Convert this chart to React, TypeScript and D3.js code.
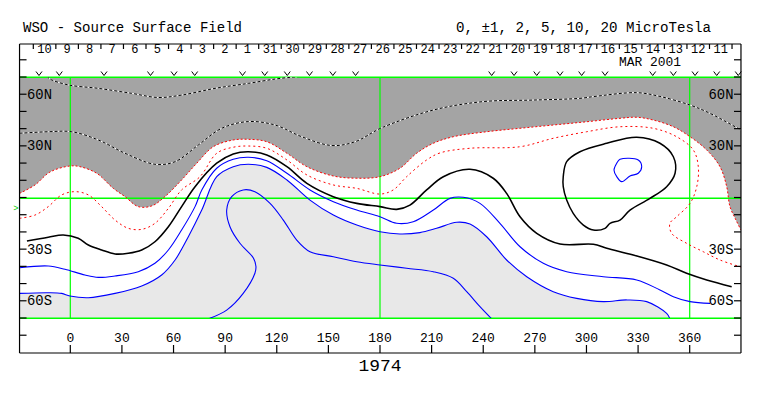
import React from 'react';
import * as d3 from 'd3';

// WSO source surface field, Carrington map (lon, lat in degrees)
const title = 'WSO - Source Surface Field';
const unitsLabel = '0, ±1, 2, 5, 10, 20 MicroTesla';
const monthLabel = 'MAR 2001';
const rotationLabel = '1974';

const dayLabels = ['10', '9', '8', '7', '6', '5', '4', '3', '2', '1', '31', '30', '29', '28', '27', '26',
    '25', '24', '23', '22', '21', '20', '19', '18', '17', '16', '15', '14', '13', '12', '11'];
const dayTickStart = -21.5;
const dayStep = 13.1;

const obsLons = [-18.2, -6.4, 19.6, 46.6, 60.3, 72.3, 100.1, 113.0, 126.1, 139.0, 152.6, 165.8,
    244.9, 257.9, 271.1, 284.6, 297.2, 310.8, 338.5, 350.5, 363.1, 375.7, 388.2];

const lonTicks = [0, 30, 60, 90, 120, 150, 180, 210, 240, 270, 300, 330, 360];
const latTicks = [80, 70, 60, 50, 40, 30, 20, 10, 0, -10, -20, -30, -40, -50, -60, -70, -80];
const latLabelValues = [60, 30, -30, -60];
const latLabelText = ['60N', '30N', '30S', '60S'];
const gridLons = [0, 180, 360];
const gridLats = [70, 0, -70];

// edge of the dark gray region (red dotted)
const grayEdge = [[-29.5, 2.4], [-20.5, 7.3], [-11.8, 14.8], [-0.2, 18.3], [5.6, 17.9], [15.3, 14.1],
    [25.0, 5.3], [31.8, 0.5], [39.5, -5.3], [47.3, -4.9], [55.0, 0.5], [64.7, 10.2], [73.5, 19.9],
    [83.1, 29.5], [94.7, 33.4], [103.5, 33.8], [114.2, 32.4], [125.9, 25.7], [137.5, 17.9],
    [152.8, 12.5], [166.5, 11.2], [180.0, 12.1], [191.6, 17.0], [201.3, 25.7], [211.0, 31.5],
    [222.6, 35.3], [242.0, 38.2], [261.4, 40.2], [280.7, 42.1], [300.1, 44.0], [319.5, 46.0],
    [329.2, 46.6], [338.8, 45.0], [350.5, 41.1], [360.2, 35.3], [369.9, 27.6], [377.6, 17.9],
    [381.5, 6.3], [383.4, -5.3], [386.9, -13.1], [389.8, -18.9]];

const redInner = [[-29.5, -12.1], [-20.5, -10.2], [-12.8, -5.3], [-5.0, 1.5], [2.7, 3.4], [10.5, 1.5],
    [18.2, -5.3], [26.0, -13.1], [33.7, -17.9], [41.5, -18.5], [49.2, -15.0], [57.0, -6.3],
    [64.7, 4.4], [75.4, 12.1], [85.1, 25.7], [94.7, 29.2], [103.5, 29.9], [114.2, 28.6],
    [125.9, 21.8], [137.5, 13.1], [152.8, 7.3], [166.5, 5.3], [180.0, 2.0], [187.7, 4.4],
    [195.5, 12.1], [207.1, 21.8], [214.9, 25.9], [232.3, 28.6], [261.4, 29.5], [280.7, 34.4],
    [300.1, 38.2], [319.5, 41.1], [338.8, 40.2], [352.4, 35.3], [362.1, 27.6], [365.0, 17.9],
    [364.1, 6.3], [360.2, -3.4], [352.4, -11.2], [348.5, -15.0], [349.5, -20.8], [358.2, -26.6],
    [367.9, -31.5], [377.6, -36.3], [389.8, -40.4]];

const neutralLine = [[-25.2, -25.3], [-12.8, -23.1], [-4.1, -21.8], [4.6, -23.7], [10.5, -27.6],
    [18.2, -30.5], [26.0, -32.8], [33.7, -32.4], [41.5, -30.5], [49.2, -25.7], [57.0, -17.0],
    [64.7, -5.3], [72.5, 6.3], [85.1, 19.9], [94.7, 25.3], [103.5, 26.6], [114.2, 24.7],
    [125.9, 17.9], [137.5, 8.2], [152.8, 0.5], [166.5, -3.4], [180.0, -5.3], [189.7, -6.9],
    [197.4, -4.4], [207.1, 4.4], [216.8, 12.1], [232.3, 16.4], [245.8, 11.2], [253.6, 2.4],
    [261.4, -11.2], [271.1, -20.8], [284.6, -27.0], [304.0, -27.2], [311.8, -29.5], [327.2, -33.4],
    [346.6, -39.2], [358.2, -44.0], [369.9, -47.9], [384.4, -51.8]];

const neutralLoop = [[286.5, 12.1], [288.5, 20.8], [296.2, 26.6], [311.8, 31.5], [329.2, 35.0],
    [342.7, 31.5], [350.5, 23.7], [351.5, 14.1], [346.6, 6.3], [336.9, -0.5], [325.3, -7.3],
    [319.5, -13.1], [313.7, -15.0], [310.8, -17.9], [304.0, -18.9], [298.2, -16.0], [292.3, -9.2],
    [288.5, -1.5], [286.5, 6.3]];

const blueLoop = [[319.5, 22.2], [330.1, 21.8], [332.1, 17.9], [330.1, 14.1], [325.3, 12.5],
    [320.5, 9.2], [317.6, 12.1], [316.0, 16.0], [317.6, 19.9]];

const blueOne = [[-29.5, -40.8], [-12.8, -39.8], [-3.1, -41.7], [8.5, -45.0], [16.3, -46.4],
    [26.0, -45.6], [39.5, -43.1], [49.2, -38.2], [57.0, -30.5], [64.7, -18.9], [72.5, -5.3],
    [76.5, 4.5], [85.1, 17.0], [94.7, 22.2], [103.5, 23.4], [114.2, 21.4], [125.9, 14.1],
    [139.3, 4.4], [152.9, -2.4], [166.5, -7.3], [180.0, -11.2], [189.7, -15.0], [199.3, -14.1],
    [211.0, -7.3], [220.7, -0.5], [228.4, 0.1], [238.1, -3.4], [249.7, -15.0], [261.4, -28.6],
    [274.9, -38.2], [288.5, -43.1], [309.8, -46.0], [329.2, -47.9], [342.7, -53.7], [350.5, -57.6],
    [360.2, -60.5], [371.8, -61.5]];

const blueTwo = [[-29.5, -55.7], [-12.8, -55.3], [-5.0, -55.7], [-0.2, -57.2], [10.5, -58.2],
    [26.0, -55.7], [41.5, -51.4], [53.1, -45.0], [60.9, -36.3], [68.6, -22.8], [76.4, -7.3],
    [85.1, 12.1], [94.7, 17.9], [103.5, 19.3], [114.2, 17.5], [125.9, 10.2], [139.3, -1.5],
    [152.9, -10.2], [166.5, -16.0], [180.0, -19.9], [191.6, -21.2], [203.2, -20.4], [212.9, -17.9],
    [224.6, -14.4], [232.3, -15.4], [242.0, -22.8], [253.6, -36.3], [265.3, -46.0], [280.7, -54.7],
    [294.3, -58.6], [309.8, -60.5], [323.4, -59.5], [335.0, -60.5], [346.6, -67.3], [348.5, -70.5]];

const blueThree = [[80.2, -70.5], [90.9, -65.4], [100.5, -55.7], [107.3, -44.0], [107.9, -40.1],
    [106.4, -35.1], [98.6, -26.6], [92.8, -17.0], [90.9, -7.3], [93.8, 0.5], [100.5, 4.4],
    [107.3, 3.4], [116.1, -3.4], [123.8, -13.1], [131.6, -24.7], [139.3, -31.5], [152.9, -34.4],
    [166.5, -37.3], [180.0, -39.2], [195.5, -41.1], [211.0, -43.1], [222.6, -46.9], [230.4, -54.7],
    [238.1, -63.4], [244.9, -70.5]];

const dashHigh = [[-13.7, 70.5], [-11.8, 68.8], [-1.2, 65.4], [16.3, 63.4], [35.7, 60.5], [51.1, 58.1],
    [64.7, 59.5], [84.1, 63.4], [103.5, 66.3], [119.0, 68.8], [128.7, 69.9], [133.5, 70.2]];

const dashLow = [[-29.5, 37.3], [-12.8, 38.2], [0.8, 38.2], [16.3, 33.4], [31.8, 25.7], [49.2, 19.3],
    [60.9, 20.8], [74.4, 30.5], [88.0, 40.2], [103.5, 44.1], [119.0, 42.1], [134.5, 35.3],
    [151.9, 30.2], [165.5, 32.4], [181.0, 40.5], [211.0, 50.8], [240.0, 55.7], [269.1, 56.6],
    [296.2, 57.6], [304.0, 58.6], [329.2, 60.9], [342.7, 58.7], [360.2, 53.7], [371.8, 48.9],
    [389.8, 39.2]];

const lonMin = -29.5;
const lonMax = 389.8;
const frameTop = 44;
const frameBottom = 353;
const mono = '"Liberation Mono", "DejaVu Sans Mono", monospace';

export default function App() {
    const x = d3.scaleLinear().domain([0, 360]).range([70.3, 689.7]);
    const y = d3.scaleLinear().domain([70, -70]).range([77, 318]);

    const line = d3.line<number[]>()
        .x(d => x(d[0]))
        .y(d => y(d[1]))
        .curve(d3.curveCatmullRom.alpha(0.5));
    const loop = d3.line<number[]>()
        .x(d => x(d[0]))
        .y(d => y(d[1]))
        .curve(d3.curveCatmullRomClosed.alpha(0.5));

    const left = x(lonMin);
    const right = x(lonMax);

    const darkArea = `${line(grayEdge)}L${right},${y(70)}L${left},${y(70)}Z`;
    const lightArea = `${line(blueTwo)}L${left},${y(-70)}Z`;

    const dayTicks = d3.range(dayLabels.length + 1).map(i => dayTickStart + i * dayStep);

    return (
        <svg width={763} height={396} style={{ position: 'absolute', left: 0, top: 0, background: '#fff' }}
            fontFamily={mono}>
            <defs>
                <clipPath id="plot">
                    <rect x={left} y={y(70)} width={right - left} height={y(-70) - y(70)} />
                </clipPath>
            </defs>

            <text x={23} y={32} fontSize={14} textLength={219} lengthAdjust="spacingAndGlyphs">{title}</text>
            <text x={456} y={32} fontSize={14} textLength={255} lengthAdjust="spacingAndGlyphs">{unitsLabel}</text>

            {/* fills */}
            <g clipPath="url(#plot)">
                <path d={darkArea} fill="#a4a4a4" />
                <path d={lightArea} fill="#e8e8e8" />
            </g>

            {/* green grid */}
            {gridLons.map(l => (
                <line key={`lon${l}`} x1={x(l)} x2={x(l)} y1={y(70)} y2={y(-70)} stroke="#00ff00" strokeWidth={1.2} />
            ))}
            {gridLats.map(l => (
                <rect key={`lat${l}`} x={left} width={right - left} y={Math.round(y(l)) - 0.5} height={1.5} fill="#00ff00" />
            ))}

            {/* contours */}
            <g clipPath="url(#plot)" fill="none">
                <path d={line(dashHigh)!} stroke="#fff" strokeWidth={1} />
                <path d={line(dashHigh)!} stroke="#000" strokeWidth={1} strokeDasharray="3 2" />
                <path d={line(dashLow)!} stroke="#fff" strokeWidth={1} />
                <path d={line(dashLow)!} stroke="#000" strokeWidth={1} strokeDasharray="3 2" />
                <path d={line(grayEdge)!} stroke="#ff0000" strokeWidth={1} strokeDasharray="2 2" />
                <path d={line(redInner)!} stroke="#ff0000" strokeWidth={1} strokeDasharray="2 3" />
                <path d={line(neutralLine)!} stroke="#000" strokeWidth={1.6} />
                <path d={loop(neutralLoop)!} stroke="#000" strokeWidth={1.5} />
                <path d={loop(blueLoop)!} stroke="#0000ff" strokeWidth={1.1} />
                <path d={line(blueOne)!} stroke="#0000ff" strokeWidth={1.1} />
                <path d={line(blueTwo)!} stroke="#0000ff" strokeWidth={1.1} />
                <path d={line(blueThree)!} stroke="#0000ff" strokeWidth={1.1} />
            </g>

            {/* frame */}
            <g stroke="#000" strokeWidth={1.2}>
                <line x1={left} x2={left} y1={frameTop} y2={frameBottom} />
                <line x1={right} x2={right} y1={frameTop} y2={frameBottom} />
                <line x1={left} x2={right} y1={frameTop} y2={frameTop} />
                <line x1={left} x2={right} y1={frameBottom} y2={frameBottom} />
                {latTicks.map(l => (
                    <g key={`t${l}`}>
                        <line x1={left} x2={left + 7} y1={y(l)} y2={y(l)} />
                        <line x1={right - 7} x2={right} y1={y(l)} y2={y(l)} />
                    </g>
                ))}
                {lonTicks.map(l => (
                    <line key={`x${l}`} x1={x(l)} x2={x(l)} y1={frameBottom - 8} y2={frameBottom} />
                ))}
                {dayTicks.map((l, i) => (
                    <line key={`d${i}`} x1={x(l)} x2={x(l)} y1={frameTop} y2={frameTop + 5} />
                ))}
            </g>

            {/* observation marks */}
            <g stroke="#000" strokeWidth={1} fill="none">
                {obsLons.map((l, i) => (
                    <polyline key={`v${i}`}
                        points={`${x(l) - 3},${y(70) - 5.5} ${x(l)},${y(70) - 1.5} ${x(l) + 3},${y(70) - 5.5}`} />
                ))}
            </g>

            {/* latitude labels */}
            {latLabelValues.map((l, i) => (
                <g key={l} fontSize={14}>
                    <text x={left + 7.5} y={y(l) + 4.5} textLength={25} lengthAdjust="spacingAndGlyphs">{latLabelText[i]}</text>
                    <text x={right - 32.5} y={y(l) + 4.5} textLength={25} lengthAdjust="spacingAndGlyphs">{latLabelText[i]}</text>
                </g>
            ))}

            {/* longitude labels */}
            {lonTicks.map(l => (
                <text key={l} x={x(l)} y={342} fontSize={13} textAnchor="middle">{l}</text>
            ))}

            {/* day numbers */}
            {dayLabels.map((d, i) => (
                <text key={i} x={x(dayTicks[i] + dayStep / 2)} y={53} fontSize={12} textAnchor="middle">{d}</text>
            ))}
            <text x={619} y={65.5} fontSize={12} textLength={62} lengthAdjust="spacingAndGlyphs">{monthLabel}</text>

            <text x={16} y={211} fontSize={9} fill="#00cc00" textAnchor="middle">&gt;</text>

            <text x={380} y={371} fontSize={17} textAnchor="middle" textLength={43} lengthAdjust="spacingAndGlyphs">{rotationLabel}</text>
        </svg>
    );
}
